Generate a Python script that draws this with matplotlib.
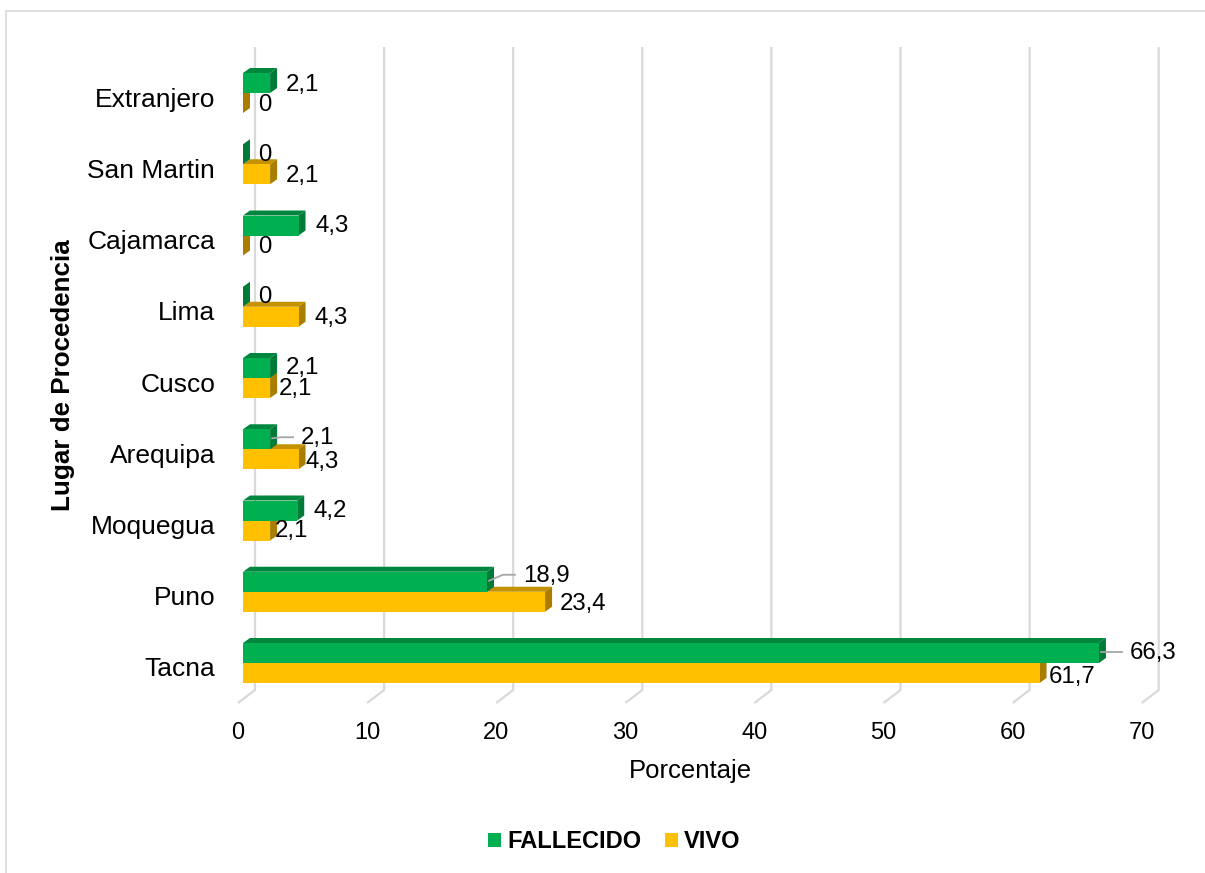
import matplotlib
matplotlib.use('Agg')
import matplotlib.pyplot as plt
from matplotlib.patches import Polygon, Rectangle, Patch
import matplotlib.transforms as mtransforms

# ---------------- data ----------------
categories = ['Tacna', 'Puno', 'Moquegua', 'Arequipa', 'Cusco', 'Lima',
              'Cajamarca', 'San Martin', 'Extranjero']
fallecido = [66.3, 18.9, 4.2, 2.1, 2.1, 0, 4.3, 0, 2.1]
vivo = [61.7, 23.4, 2.1, 4.3, 2.1, 4.3, 0, 2.1, 0]
series_names = ['FALLECIDO', 'VIVO']
x_ticks = [0, 10, 20, 30, 40, 50, 60, 70]
x_title = 'Porcentaje'
y_title = 'Lugar de Procedencia'

# ---------------- style ----------------
plt.rcParams['font.family'] = ['Liberation Sans', 'DejaVu Sans']
GREEN, GREEN_TOP, GREEN_SIDE = '#00B050', '#00873D', '#007A37'
YELLOW, YELLOW_TOP, YELLOW_SIDE = '#FFC000', '#C49200', '#A87D00'
GRID = '#D9D9D9'
LEADER = '#A6A6A6'

# label offsets in pixels: (dx from bar end, dy downward from bar centre, leader)
lab_off_g = [(31, 0, True), (36, -6, True), (16, 0, False), (31, -1, True), (16, 0, False),
             (15, 0, False), (16.5, 0.5, False), (15, 1, False), (16, 2, False)]
lab_off_v = [(9.5, 4, False), (15, 2, False), (5, 1, False), (6.5, 3, False), (9, 1, False),
             (16, 1, False), (15, 1.5, False), (16, 2, False), (15, 2, False)]

W, H = 1205, 873
fig = plt.figure(figsize=(W / 100, H / 100), dpi=100)
ax = fig.add_axes([243 / W, 1 - 703 / H, 903.7 / W, 656 / H])
ax.set_xlim(0, 70)
ax.set_ylim(-40 / 71.25, 616 / 71.25)
for s in ax.spines.values():
    s.set_visible(False)

p0 = ax.transData.transform((0, 0))
sx = ax.transData.transform((1, 0))[0] - p0[0]
sy = ax.transData.transform((0, 1))[1] - p0[1]

BAR_H = 20 / sy
DX, DY = 7 / sx, 5 / sy

# gridlines (back wall + floor slant)
y_top = ax.get_ylim()[1]
y_wall = -27 / sy
y_floor = ax.get_ylim()[0]
for v in x_ticks:
    ax.plot([v + 12 / sx, v + 12 / sx, v - 5 / sx], [y_top, y_wall, y_floor],
            color=GRID, lw=1.6, zorder=1, clip_on=False, solid_capstyle='butt')


def bar3d(v, y0, front, top, side, z):
    h = BAR_H
    ax.add_patch(Polygon([(0, y0 + h), (v, y0 + h), (v + DX, y0 + h + DY), (DX, y0 + h + DY)],
                         closed=True, fc=top, ec='none', zorder=z))
    ax.add_patch(Polygon([(v, y0), (v + DX, y0 + DY), (v + DX, y0 + h + DY), (v, y0 + h)],
                         closed=True, fc=side, ec='none', zorder=z))
    ax.barh([y0], [v], height=h, align='edge', color=front, lw=0, zorder=z)


def fmt(v):
    return f'{v:g}'.replace('.', ',')


for i in range(len(categories)):
    bar3d(vivo[i], i - BAR_H, YELLOW, YELLOW_TOP, YELLOW_SIDE, 2 + 2 * i)
    bar3d(fallecido[i], i, GREEN, GREEN_TOP, GREEN_SIDE, 3 + 2 * i)

# data labels
for vals, offs, yc_sign in ((fallecido, lab_off_g, 1), (vivo, lab_off_v, -1)):
    for i, v in enumerate(vals):
        dxp, dyp, leader = offs[i]
        yc = i + yc_sign * BAR_H / 2
        xt = v + dxp / sx
        yt = yc - dyp / sy
        ax.text(xt, yt, fmt(v), ha='left', va='center', fontsize=17.3, color='black',
                zorder=30)
        if leader:
            ax.plot([v + 2 / sx, xt - 20 / sx, xt - 8 / sx],
                    [yc + 1 / sy, yt + 1 / sy, yt + 1 / sy], color=LEADER, lw=1.3, zorder=29)

# ticks
ax.set_xticks(x_ticks)
ax.set_xticklabels([str(t) for t in x_ticks], fontsize=17)
ax.tick_params(axis='x', length=0, pad=14)
off = mtransforms.ScaledTranslation(-5 / 100, 0, fig.dpi_scale_trans)
for lab in ax.get_xticklabels():
    lab.set_transform(lab.get_transform() + off)

ax.set_yticks([i - 4 / sy for i in range(len(categories))])
ax.set_yticklabels(categories, fontsize=19)
ax.tick_params(axis='y', length=0, pad=20)

ax.set_xlabel(x_title, fontsize=18.5, va='center')
ax.xaxis.set_label_coords((690 - 243) / 903.7, (703 - 771) / 656)
ax.set_ylabel(y_title, fontsize=18.7, fontweight='bold', va='center')
ax.yaxis.set_label_coords((63 - 243) / 903.7, (703 - 375) / 656)

handles = [Patch(facecolor=GREEN, edgecolor='none'), Patch(facecolor=YELLOW, edgecolor='none')]
fig.legend(handles, series_names, loc='center', bbox_to_anchor=(614 / W, 1 - 842 / H),
           ncol=2, frameon=False, prop={'size': 17, 'weight': 'bold'},
           handlelength=0.55, handleheight=0.52, handletextpad=0.25, columnspacing=1.0)

# chart border (left/top visible)
fig.patches.append(Rectangle((6 / W, -0.1), 2, 1 - 11 / H + 0.1, transform=fig.transFigure,
                             fill=False, ec=GRID, lw=1.2))

fig.savefig('out.png', dpi=100)
